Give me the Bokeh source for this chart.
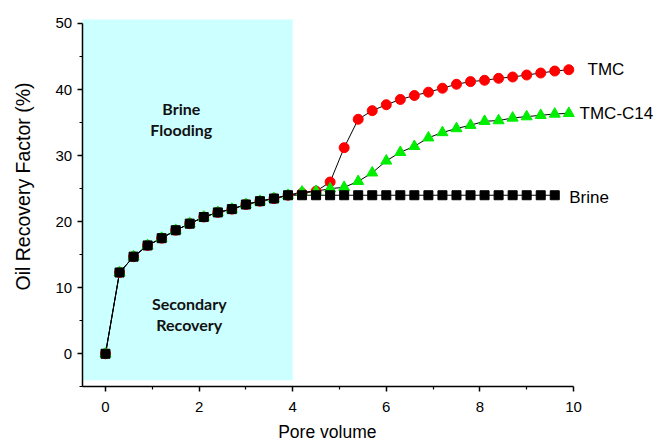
import math
from bokeh.plotting import figure
from bokeh.models import Range1d, FixedTicker, BoxAnnotation
from bokeh.core.properties import value
from bokeh.embed import file_html
from bokeh.resources import INLINE

# ---- data ----
pv_brine = [0, 0.3, 0.6, 0.9, 1.2, 1.5, 1.8, 2.1, 2.4, 2.7, 3.0, 3.3, 3.6, 3.9,
            4.2, 4.5, 4.8, 5.1, 5.4, 5.7, 6.0, 6.3, 6.6, 6.9, 7.2, 7.5, 7.8, 8.1,
            8.4, 8.7, 9.0, 9.3, 9.6]
pv_chem = pv_brine + [9.9]

early = [0, 12.3, 14.7, 16.4, 17.5, 18.7, 19.7, 20.7, 21.4, 21.9, 22.6, 23.1, 23.5, 24.0]

brine = early + [24.0] * 19
tmc = early + [24.3, 24.6, 26.0, 31.2, 35.5, 36.8, 37.7, 38.5, 39.1, 39.6, 40.2,
               40.8, 41.2, 41.4, 41.7, 41.9, 42.2, 42.5, 42.8, 43.0]
tmc_c14 = early + [24.5, 24.6, 25.0, 25.2, 26.1, 27.4, 29.2, 30.5, 31.4, 32.7, 33.5,
                   34.1, 34.6, 35.2, 35.3, 35.7, 35.9, 36.1, 36.3, 36.4]

series_names = ["TMC", "TMC-C14", "Brine"]
name_pos_x = [10.3, 10.13, 9.91]
name_pos_y = [43.1, 36.4, 23.6]

region_end = 4.0
region_lines = ["Brine", "Flooding", "Secondary", "Recovery"]
region_x = [1.62, 1.62, 1.79, 1.79]
region_y = [37.2, 34.0, 7.6, 4.4]

x_ticks = [0, 2, 4, 6, 8, 10]
x_minor = [1, 3, 5, 7, 9]
y_ticks = [0, 10, 20, 30, 40, 50]
y_minor = [-5, 5, 15, 25, 35, 45]
x_axis_span = (-0.5, 10)
y_axis_span = (-5, 50)
x_title = "Pore volume"
y_title = "Oil Recovery Factor (%)"

FONT = "Liberation Sans"

# ---- figure: frame fills the whole canvas, axes drawn at fixed locations ----
p = figure(width=656, height=441, output_backend="svg", toolbar_location=None,
           x_range=Range1d(-2.2436, 11.774), y_range=Range1d(-13.28, 53.48),
           min_border=0, min_border_left=0, min_border_right=0,
           min_border_top=0, min_border_bottom=0)
p.outline_line_color = None
p.xgrid.visible = False
p.ygrid.visible = False
p.background_fill_color = "white"
p.border_fill_color = "white"

p.add_layout(BoxAnnotation(left=x_axis_span[0], right=region_end, bottom=-4, top=50.6,
                           fill_color="#CCFFFF", fill_alpha=1.0, line_color=None,
                           level="underlay"))

for lbl, x, y in zip(region_lines, region_x, region_y):
    p.text(x=[x], y=[y], text=[lbl], text_font=value("Lato"), text_font_style="bold",
           text_font_size="16px", text_align="center", text_baseline="middle",
           text_color="#111111")

p.line(pv_chem, tmc, line_color="black", line_width=1)
p.line(pv_chem, tmc_c14, line_color="black", line_width=1)
p.line(pv_brine, brine, line_color="black", line_width=1)

p.scatter(pv_chem, tmc, marker="circle", size=10, fill_color="#FF0000", line_color="#FF0000")
p.scatter(pv_chem, tmc_c14, marker="triangle", size=11, fill_color="#00EE00", line_color="#00EE00")
p.scatter(pv_brine, brine, marker="square", size=9, fill_color="black", line_color="black")

p.text(x=name_pos_x, y=name_pos_y, text=series_names, text_font=value(FONT),
       text_font_size="17px", text_align="left", text_baseline="middle", text_color="black")

# axis titles
p.text(x=[4.74], y=[-11.9], text=[x_title], text_font=value(FONT), text_font_size="17.5px",
       text_align="center", text_baseline="middle", text_color="black")
p.text(x=[-1.763], y=[25.33], text=[y_title], angle=math.pi / 2, text_font=value(FONT),
       text_font_size="19.5px", text_align="center", text_baseline="middle",
       text_color="black")

for ax in (p.xaxis[0], p.yaxis[0]):
    ax.axis_line_width = 1.5
    ax.major_tick_line_width = 1.5
    ax.minor_tick_line_width = 1.2
    ax.major_tick_out = 5
    ax.major_tick_in = 0
    ax.minor_tick_out = 3
    ax.minor_tick_in = 0
    ax.major_label_text_font = FONT
    ax.major_label_text_font_size = "15px"
    ax.major_label_text_color = "black"

p.xaxis.ticker = FixedTicker(ticks=x_ticks, minor_ticks=x_minor)
p.yaxis.ticker = FixedTicker(ticks=y_ticks, minor_ticks=y_minor)
p.xaxis.bounds = x_axis_span
p.yaxis.bounds = y_axis_span
p.xaxis.fixed_location = y_axis_span[0]
p.yaxis.fixed_location = x_axis_span[0]
p.xaxis.major_label_standoff = 10
p.yaxis.major_label_standoff = 5

open("out.html", "w").write(file_html(p, INLINE))
